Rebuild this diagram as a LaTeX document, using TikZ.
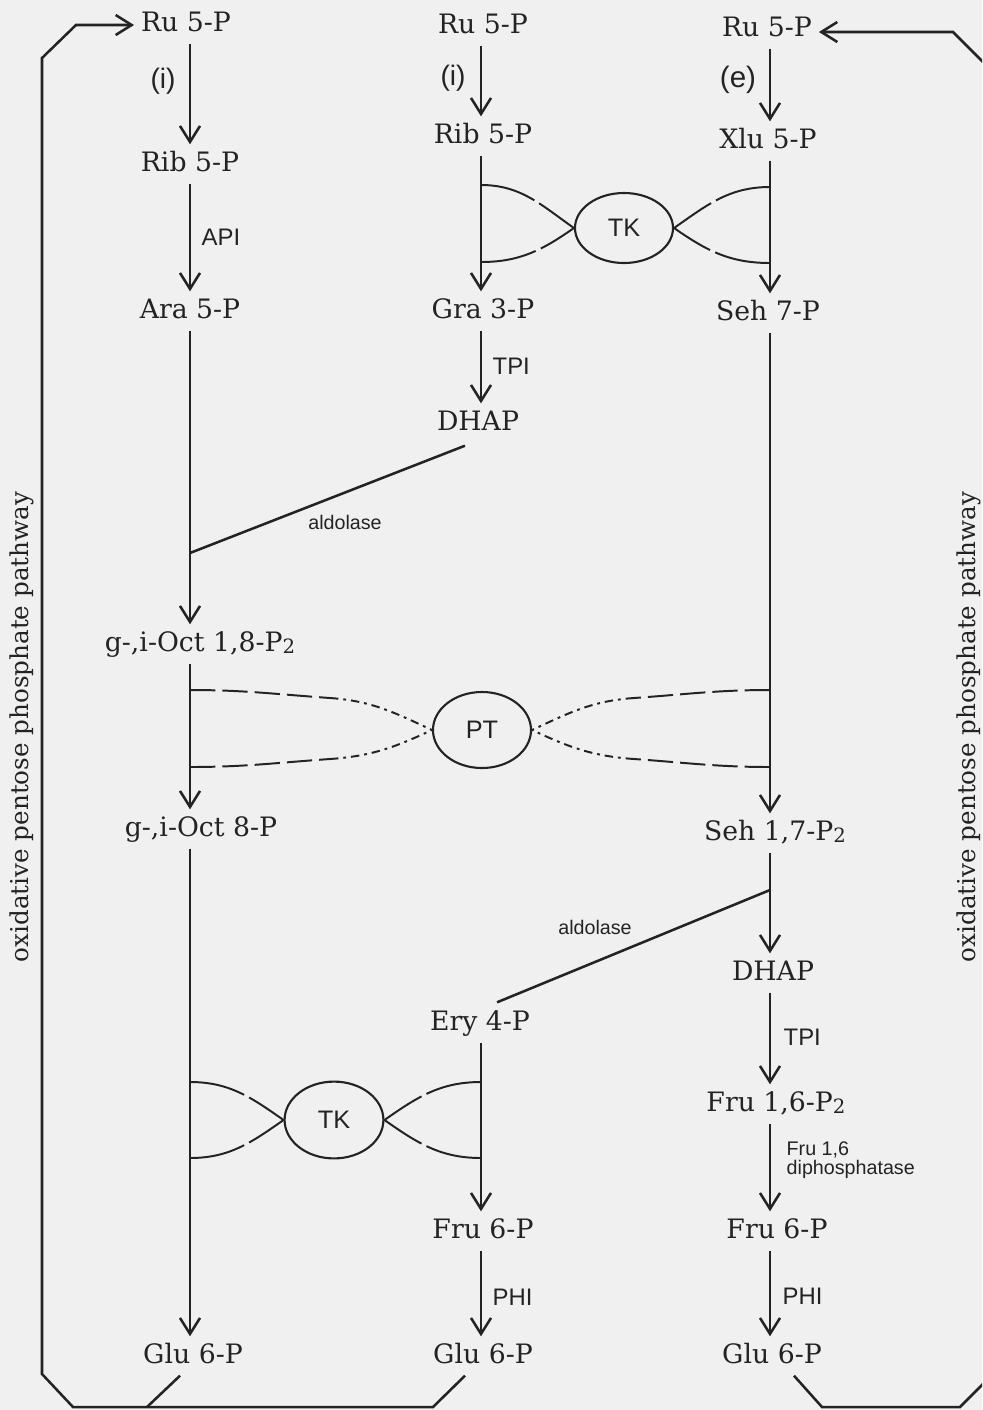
\documentclass[tikz,border=0pt]{standalone}
\usepackage{fontspec}
\setmainfont{DejaVu Serif}
\newfontfamily\labelsans{Liberation Sans}
\usepackage{tikz}
\usetikzlibrary{shapes.geometric, arrows.meta, positioning, calc}
\definecolor{paper}{RGB}{240,240,240}
\definecolor{ink}{RGB}{35,35,35}
\newcommand{\Ptwo}{P\raisebox{-1.5pt}{\fontsize{14}{14}\selectfont 2}}
\tikzset{
  % Metabolite and enzyme styles
  metab/.style={inner sep=2pt, outer sep=3pt, text=ink, font=\fontsize{19}{22}\selectfont, text height=14pt, text depth=4pt},
  enzyme/.style={inner sep=1pt, text=ink, font=\labelsans\fontsize{#1}{#1}\selectfont},
  enzyme/.default={17},
  ring/.style={ellipse, draw=ink, line width=1.5pt, inner sep=0pt, text=ink, font=\labelsans\fontsize{18}{18}\selectfont},
  sidetext/.style={rotate=90, text=ink, font=\fontsize{17.5}{20}\selectfont},
  % Line styles
  line/.style={line width=1.8pt, draw=ink},
  arrow/.style={-{Straight Barb[length=4mm, width=5mm]}, line width=1.8pt, draw=ink},
  tklink/.style={line width=1.4pt, draw=ink, dash pattern=on 40pt off 4pt},
  ptlong/.style={line width=1.4pt, draw=ink, dash pattern=on 18pt off 5pt},
  ptshort/.style={line width=1.4pt, draw=ink, dash pattern=on 6pt off 3.5pt on 2pt off 3.5pt},
}

\begin{document}
\begin{tikzpicture}[x=0.025cm, y=-0.025cm]
    % Paper
    \fill[paper] (0,0) rectangle (982,1410);
    \useasboundingbox (0,0) rectangle (982,1410);
    \clip (0,0) rectangle (982,1410);

    % Column axes
    \coordinate (c1) at (190,0);
    \coordinate (c2) at (481,0);
    \coordinate (c3) at (770,0);

    % Left column
    \node[metab] (ru1) at (186,24) {Ru 5-P};
    \node[metab] (rib1) at (190,164) {Rib 5-P};
    \node[metab] (ara1) at (190,311) {Ara 5-P};
    \node[metab] (oct18) at (200,644) {g-,i-Oct 1,8-\Ptwo};
    \node[metab] (oct8) at (201,829) {g-,i-Oct 8-P};
    \node[metab] (glu1) at (193,1356) {Glu 6-P};

    % Middle column
    \node[metab] (ru2) at (483,26) {Ru 5-P};
    \node[metab] (rib2) at (483,136) {Rib 5-P};
    \node[metab] (gra) at (483,311) {Gra 3-P};
    \node[metab] (dhap1) at (478,423) {DHAP};
    \node[metab] (ery) at (480,1023) {Ery 4-P};
    \node[metab] (fru2) at (483,1231) {Fru 6-P};
    \node[metab] (glu2) at (483,1356) {Glu 6-P};

    % Right column
    \node[metab] (ru3) at (767,29) {Ru 5-P};
    \node[metab] (xlu) at (768,141) {Xlu 5-P};
    \node[metab] (seh7) at (768,313) {Seh 7-P};
    \node[metab] (seh17) at (775,833) {Seh 1,7-\Ptwo};
    \node[metab] (dhap2) at (773,973) {DHAP};
    \node[metab] (fru16) at (776,1104) {Fru 1,6-\Ptwo};
    \node[metab] (fru3) at (777,1231) {Fru 6-P};
    \node[metab] (glu3) at (772,1356) {Glu 6-P};

    % Enzyme rings
    \node[ring, minimum width=2.45cm, minimum height=1.75cm] (tk1) at (624,228) {TK};
    \node[ring, minimum width=2.45cm, minimum height=1.9cm] (pt) at (482,730) {PT};
    \node[ring, minimum width=2.47cm, minimum height=1.92cm] (tk2) at (334,1120) {TK};

    % Enzyme labels
    \node[enzyme=20] (i1) at (163,81) {(i)};
    \node[enzyme, anchor=west] (api) at (200,237) {API};
    \node[enzyme=20] (i2) at (453,78) {(i)};
    \node[enzyme=21] (e3) at (738,80) {(e)};
    \node[enzyme, anchor=west] (tpi2) at (491,366) {TPI};
    \node[enzyme=14] (aldlab1) at (345,522) {aldolase};
    \node[enzyme=14] (aldlab2) at (595,927) {aldolase};
    \node[enzyme, anchor=west] (tpi3) at (782,1037) {TPI};
    \node[enzyme=14, anchor=west, align=left] (fbp) at (785,1160) {Fru 1,6\\diphosphatase};
    \node[enzyme, anchor=west] (phi2) at (491,1297) {PHI};
    \node[enzyme, anchor=west] (phi3) at (781,1296) {PHI};

    % Side labels
    \node[sidetext] (sideL) at (22,727) {oxidative pentose phosphate pathway};
    \node[sidetext] (sideR) at (969,727) {oxidative pentose phosphate pathway};

    % Left column arrows
    \draw[arrow] (ru1.south -| c1) -- (rib1.north -| c1);
    \draw[arrow] (rib1.south -| c1) -- (ara1.north -| c1);
    \draw[arrow] (ara1.south -| c1) -- (oct18.north -| c1);
    \draw[arrow] (oct18.south -| c1) -- (oct8.north -| c1);
    \draw[arrow] (oct8.south -| c1) -- (glu1.north -| c1);

    % Middle column arrows
    \draw[arrow] (ru2.south -| c2) -- (rib2.north -| c2);
    \draw[arrow] (rib2.south -| c2) -- (gra.north -| c2);
    \draw[arrow] (gra.south -| c2) -- (dhap1.north -| c2);
    \draw[arrow] (ery.south -| c2) -- (fru2.north -| c2);
    \draw[arrow] (fru2.south -| c2) -- (glu2.north -| c2);

    % Right column arrows
    \draw[arrow] (ru3.south -| c3) -- (xlu.north -| c3);
    \draw[arrow] (xlu.south -| c3) -- (seh7.north -| c3);
    \draw[arrow] (seh7.south -| c3) -- (seh17.north -| c3);
    \draw[arrow] (seh17.south -| c3) -- (dhap2.north -| c3);
    \draw[arrow] (dhap2.south -| c3) -- (fru16.north -| c3);
    \draw[arrow] (fru16.south -| c3) -- (fru3.north -| c3);
    \draw[arrow] (fru3.south -| c3) -- (glu3.north -| c3);

    % Aldolase splits
    \coordinate (ald1) at (190,553);
    \coordinate (ald2) at (770,890);
    \draw[line] ($(dhap1.south)+(-13,3)$) -- (ald1);
    \draw[line] ($(ery.north)+(17,-1)$) -- (ald2);

    % Transketolase, upper
    \coordinate (tka) at (481,185);
    \coordinate (tkb) at (481,262);
    \coordinate (tkc) at (770,187);
    \coordinate (tkd) at (770,263);
    \draw[tklink] (tka) to[out=0, in=145] (tk1.west);
    \draw[tklink] (tkb) to[out=0, in=215] (tk1.west);
    \draw[tklink] (tkc) to[out=180, in=35] (tk1.east);
    \draw[tklink] (tkd) to[out=180, in=-35] (tk1.east);

    % Transketolase, lower
    \coordinate (tke) at (190,1082);
    \coordinate (tkf) at (190,1158);
    \coordinate (tkg) at (481,1082);
    \coordinate (tkh) at (481,1158);
    \draw[tklink] (tke) to[out=0, in=145] (tk2.west);
    \draw[tklink] (tkf) to[out=0, in=215] (tk2.west);
    \draw[tklink] (tkg) to[out=180, in=35] (tk2.east);
    \draw[tklink] (tkh) to[out=180, in=-35] (tk2.east);

    % Phosphotransferase
    \coordinate (pta) at (190,690);
    \coordinate (ptb) at (190,767);
    \coordinate (ptc) at (770,690);
    \coordinate (ptd) at (770,767);
    \coordinate (pta2) at (330,698);
    \coordinate (ptb2) at (330,759);
    \coordinate (ptc2) at (634,698);
    \coordinate (ptd2) at (634,759);
    \draw[ptlong] (pta) to[out=0, in=176] (pta2);
    \draw[ptshort] (pta2) to[out=-4, in=155] (pt.west);
    \draw[ptlong] (ptb) to[out=0, in=184] (ptb2);
    \draw[ptshort] (ptb2) to[out=4, in=205] (pt.west);
    \draw[ptlong] (ptc) to[out=180, in=4] (ptc2);
    \draw[ptshort] (ptc2) to[out=184, in=25] (pt.east);
    \draw[ptlong] (ptd) to[out=180, in=-4] (ptd2);
    \draw[ptshort] (ptd2) to[out=176, in=-25] (pt.east);

    % Return loops
    \coordinate (lb0) at (147,1407);
    \coordinate (lb2) at (433,1407);
    \coordinate (lb1) at (73,1407);
    \coordinate (lc1) at (42,1374);
    \coordinate (lc2) at (42,58);
    \coordinate (lt) at (76,25);
    \coordinate (rb1) at (822,1407);
    \coordinate (rb2) at (960,1407);
    \coordinate (rc1) at (1000,1367);
    \coordinate (rc2) at (1000,79);
    \coordinate (rt) at (953,32);
    \draw[line] ($(glu1.south)+(-13,0)$) -- (lb0);
    \draw[arrow] ($(glu2.south)+(-18,0)$) -- (lb2) -- (lb1) -- (lc1) -- (lc2) -- (lt) -- (ru1.west |- lt);
    \draw[arrow] ($(glu3.south)+(22,0)$) -- (rb1) -- (rb2) -- (rc1) -- (rc2) -- (rt) -- (ru3.east |- rt);
\end{tikzpicture}
\end{document}
